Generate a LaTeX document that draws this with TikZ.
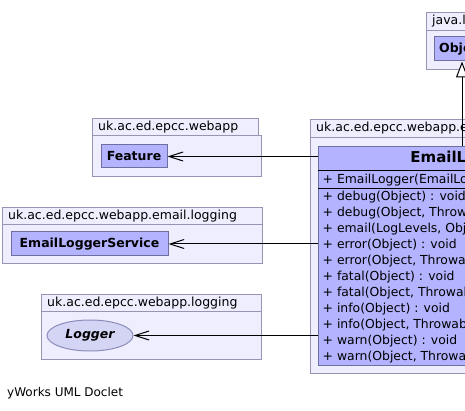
\documentclass[tikz,border=0pt]{standalone}
\usepackage{fontspec}
\setmainfont{DejaVu Sans}
\usetikzlibrary{arrows.meta,shapes.geometric}
\definecolor{pkgfill}{RGB}{238,238,255}
\definecolor{pkgline}{RGB}{150,150,180}
\definecolor{clsfill}{RGB}{179,179,255}
\definecolor{clsline}{RGB}{110,110,160}
\definecolor{ifill}{RGB}{212,212,245}
\definecolor{iline}{RGB}{140,140,185}
\tikzset{
  pkgbox/.style={draw=pkgline, fill=pkgfill, line width=1pt, inner sep=0pt, anchor=north west},
  pkgtext/.style={anchor=west, inner xsep=6pt, inner ysep=0pt, font=\fontsize{12.5}{14}\selectfont},
  classbox/.style={draw=clsline, fill=clsfill, line width=1pt, inner sep=0pt, font=\bfseries\fontsize{12.5}{14}\selectfont},
  ifacebox/.style={ellipse, draw=iline, fill=ifill, line width=1pt, inner sep=0pt, font=\bfseries\itshape\fontsize{12.5}{14}\selectfont},
  member/.style={anchor=west, inner sep=0pt, font=\fontsize{12.4}{14}\selectfont},
  sepline/.style={draw=black, line width=1pt},
  assoc/.style={draw=black, line width=1pt, -{Straight Barb[length=14pt,width=9pt]}},
  inherit/.style={draw=black, line width=1pt, -{Triangle[fill=white,length=16pt,width=12pt]}},
}
\begin{document}
\begin{tikzpicture}[x=1pt,y=-1pt]
\clip (0,0) rectangle (465,411);
\fill[white] (0,0) rectangle (465,411);

% java.lang package
\node[pkgbox, minimum width=72pt, minimum height=39pt] (jlbody) at (426,30) {};
\node[pkgbox, minimum width=72pt, minimum height=18pt] (jltab) at (426,12) {};
\node[pkgtext] (jllabel) at (jltab.west) {java.lang};
\node[classbox, minimum width=56pt, minimum height=24pt] (obj) at (462,49) {Object};

% uk.ac.ed.epcc.webapp package
\node[pkgbox, minimum width=169pt, minimum height=41pt] (p1body) at (92,135) {};
\node[pkgbox, minimum width=166pt, minimum height=17pt] (p1tab) at (92,118) {};
\node[pkgtext] (p1label) at (p1tab.west) {uk.ac.ed.epcc.webapp};
\node[classbox, minimum width=66pt, minimum height=23pt] (feature) at (134,156.5) {Feature};

% uk.ac.ed.epcc.webapp.email.logging package (left)
\node[pkgbox, minimum width=260pt, minimum height=39pt] (p2body) at (2,224) {};
\node[pkgbox, minimum width=260pt, minimum height=17pt] (p2tab) at (2,207) {};
\node[pkgtext] (p2label) at (p2tab.west) {uk.ac.ed.epcc.webapp.email.logging};
\node[classbox, minimum width=157pt, minimum height=24pt] (els) at (89.5,244) {EmailLoggerService};

% uk.ac.ed.epcc.webapp.logging package
\node[pkgbox, minimum width=220pt, minimum height=48pt] (p3body) at (41,311) {};
\node[pkgbox, minimum width=220pt, minimum height=17pt] (p3tab) at (41,294) {};
\node[pkgtext] (p3label) at (p3tab.west) {uk.ac.ed.epcc.webapp.logging};
\node[ifacebox, minimum width=86pt, minimum height=31pt] (logger) at (90,335.5) {Logger};

% uk.ac.ed.epcc.webapp.email.logging package (right)
\node[pkgbox, minimum width=300pt, minimum height=236pt] (p4body) at (310,137) {};
\node[pkgbox, minimum width=300pt, minimum height=18pt] (p4tab) at (310,119) {};
\node[pkgtext] (p4label) at (p4tab.west) {uk.ac.ed.epcc.webapp.email.logging};

% EmailLogger class
\node[classbox, anchor=north west, minimum width=290pt, minimum height=219pt] (el) at (318,146) {};
\node[inner sep=0pt, font=\bfseries\fontsize{15}{17}\selectfont] (eltitle) at (463,158.5) {EmailLogger};
\draw[sepline] (318,171) -- (608,171);
\draw[sepline] (318,189) -- (608,189);
\node[member] (m0) at (322.5,180) {+\ EmailLogger(EmailLoggerService)};
\node[member] (m1) at (322.5,197) {+\ debug(Object) : void};
\node[member] (m2) at (322.5,213) {+\ debug(Object, Throwable) : void};
\node[member] (m3) at (322.5,229) {+\ email(LogLevels, Object, Throwable) : void};
\node[member] (m4) at (322.5,245) {+\ error(Object) : void};
\node[member] (m5) at (322.5,261) {+\ error(Object, Throwable) : void};
\node[member] (m6) at (322.5,277) {+\ fatal(Object) : void};
\node[member] (m7) at (322.5,293) {+\ fatal(Object, Throwable) : void};
\node[member] (m8) at (322.5,309) {+\ info(Object) : void};
\node[member] (m9) at (322.5,325) {+\ info(Object, Throwable) : void};
\node[member] (m10) at (322.5,341) {+\ warn(Object) : void};
\node[member] (m11) at (322.5,357) {+\ warn(Object, Throwable) : void};

% connectors
\draw[inherit] (obj.south |- el.north) -- (obj.south);
\draw[assoc] (el.west |- feature.east) -- (feature.east);
\draw[assoc] (el.west |- els.east) -- (els.east);
\draw[assoc] (el.west |- logger.east) -- (logger.east);

% footer
\node[anchor=west, inner sep=0pt, font=\fontsize{12}{14}\selectfont] (footer) at (7,393) {yWorks UML Doclet};
\end{tikzpicture}
\end{document}
